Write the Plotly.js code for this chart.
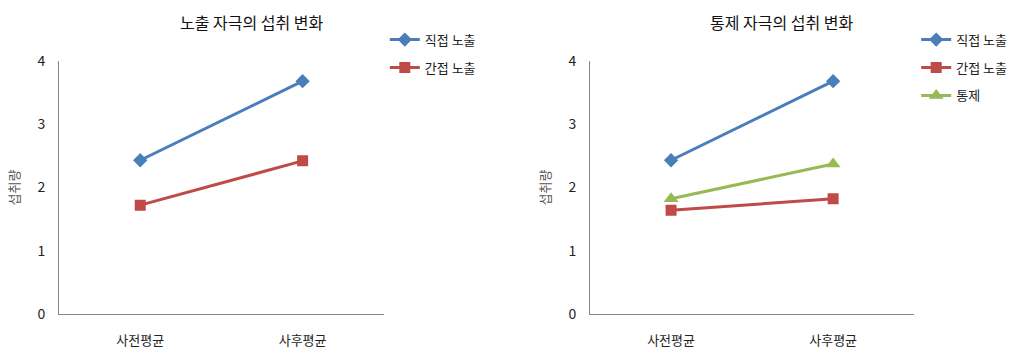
<!DOCTYPE html>
<html><head><meta charset="utf-8">
<script src="https://cdn.plot.ly/plotly-3.0.1.min.js"></script>
<style>html,body{margin:0;padding:0;background:#fff}#chart{width:1018px;height:352px}</style>
</head><body><div id="chart"></div>
<script>
const categories = ['사전평균', '사후평균'];
const leftTitle = '노출 자극의 섭취 변화';
const rightTitle = '통제 자극의 섭취 변화';
const yTitle = '섭취량';
const seriesNames = ['직접 노출', '간접 노출', '통제'];
const leftDirect = [2.43, 3.68];
const leftIndirect = [1.72, 2.42];
const rightDirect = [2.43, 3.68];
const rightIndirect = [1.64, 1.82];
const rightControl = [1.82, 2.37];

const colors = ['#4a7ebb', '#be4b48', '#98b954'];
const symbols = ['diamond', 'square', 'triangle-up'];
const msizes = [11, 11, 13];
const fnt = '"Noto Sans CJK KR", "Noto Sans", sans-serif';

function tr(y, i, xa, ya, leg) {
  return {x: categories, y: y, name: seriesNames[i], type: 'scatter', mode: 'lines+markers',
    xaxis: xa, yaxis: ya, legend: leg, legendgroup: leg + i,
    line: {color: colors[i], width: 3},
    marker: {symbol: symbols[i], color: colors[i], size: msizes[i]}};
}
const data = [
  tr(leftDirect, 0, 'x', 'y', 'legend'),
  tr(leftIndirect, 1, 'x', 'y', 'legend'),
  tr(rightDirect, 0, 'x2', 'y2', 'legend2'),
  tr(rightIndirect, 1, 'x2', 'y2', 'legend2'),
  tr(rightControl, 2, 'x2', 'y2', 'legend2')
];
const yax = {range: [0, 4], dtick: 1, showgrid: false, zeroline: false, showline: true,
  linecolor: '#868686', linewidth: 1, ticks: '', ticklen: 0, ticklabelstandoff: 10,
  tickfont: {size: 14, color: '#222', family: fnt},
  title: {text: yTitle, font: {size: 13, color: '#555', family: fnt}, standoff: 14}};
const xax = {type: 'category', range: [-0.5, 1.5], showgrid: false, zeroline: false, showline: true,
  linecolor: '#868686', linewidth: 1, ticks: '', ticklabelstandoff: 14,
  tickfont: {size: 13, color: '#222', family: fnt}};
const legBase = {font: {size: 13, color: '#222', family: fnt}, bgcolor: 'rgba(0,0,0,0)',
  tracegroupgap: 8, xanchor: 'left', yanchor: 'top', itemclick: false};
const layout = {
  width: 1018, height: 352, margin: {l: 0, r: 0, t: 0, b: 0},
  paper_bgcolor: '#fff', plot_bgcolor: '#fff', showlegend: true,
  font: {family: fnt},
  xaxis: Object.assign({}, xax, {domain: [0.058, 0.377], anchor: 'y'}),
  yaxis: Object.assign({}, yax, {domain: [0.108, 0.827], anchor: 'x'}),
  xaxis2: Object.assign({}, xax, {domain: [0.5796, 0.898], anchor: 'y2'}),
  yaxis2: Object.assign({}, yax, {domain: [0.108, 0.827], anchor: 'x2'}),
  legend: Object.assign({}, legBase, {x: 0.378, y: 0.93}),
  legend2: Object.assign({}, legBase, {x: 0.9, y: 0.93}),
  annotations: [
    {text: leftTitle, xref: 'paper', yref: 'paper', x: 252 / 1018, y: 1 - 22 / 352, xanchor: 'center', yanchor: 'middle', showarrow: false, font: {size: 16, color: '#111', family: fnt}},
    {text: rightTitle, xref: 'paper', yref: 'paper', x: 782 / 1018, y: 1 - 22 / 352, xanchor: 'center', yanchor: 'middle', showarrow: false, font: {size: 16, color: '#111', family: fnt}}
  ]
};
Plotly.newPlot('chart', data, layout, {displayModeBar: false, staticPlot: true});
</script></body></html>
